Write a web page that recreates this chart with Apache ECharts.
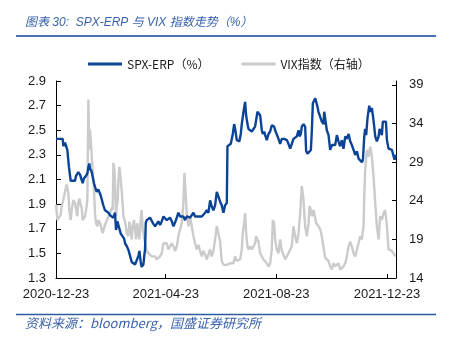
<!DOCTYPE html>
<html>
<head>
<meta charset="utf-8">
<style>
  html, body { margin: 0; padding: 0; background: #ffffff; }
  #chart { width: 449px; height: 341px; }
</style>
<script src="https://cdn.jsdelivr.net/npm/echarts@6/dist/echarts.min.js"></script>
</head>
<body>
<div id="chart"></div>
<script>
// Date axis is expressed as days elapsed since the first observation
const startDate = '2020-12-23';
const xTickLabels = ['2020-12-23', '2021-04-23', '2021-08-23', '2021-12-23'];
const leftTicks = [1.3, 1.5, 1.7, 1.9, 2.1, 2.3, 2.5, 2.7, 2.9];
const rightTicks = [14, 19, 24, 29, 34, 39];

const seriesNames = ['SPX-ERP（%）', 'VIX指数（右轴）'];

// SPX equity risk premium (%), left axis
const erpDays = [
  0, 2.6, 4.4, 7.4, 8.1, 9.9, 11.8, 12.5, 14.3, 16.2,
  18.4, 21.0, 22.1, 24.6, 26.5, 28.3, 29.4, 30.9, 33.1, 34.6,
  35.7, 36.8, 37.5, 38.3, 39.4, 40.5, 41.9, 43.0, 44.9, 46.7,
  48.6, 49.3, 50.4, 52.2, 54.1, 55.9, 57.8, 59.6, 61.4, 63.3,
  65.1, 66.2, 67.7, 68.8, 70.6, 71.4, 73.6, 75.1, 76.2, 78.0,
  79.8, 81.7, 83.5, 85.4, 87.2, 89.0, 90.9, 92.0, 93.4, 94.5,
  96.4, 97.5, 98.2, 99.0, 100.1, 101.9, 103.7, 105.6, 107.4, 109.3,
  111.1, 112.9, 114.8, 116.6, 118.5, 120.3, 122.1, 124.0, 125.8, 127.7,
  129.5, 131.3, 133.2, 135.0, 136.9, 138.7, 140.5, 142.4, 144.2, 146.1,
  147.9, 149.7, 151.6, 153.4, 155.3, 157.1, 158.9, 160.8, 162.6, 164.5,
  166.3, 168.1, 170.0, 171.8, 173.6, 175.5, 177.3, 179.2, 181.0, 182.8,
  184.7, 186.5, 188.4, 189.1, 191.3, 192.8, 195.0, 196.5, 197.6, 199.4,
  201.2, 202.3, 203.8, 204.9, 206.8, 208.6, 209.7, 211.2, 212.3, 214.1,
  216.0, 217.8, 219.6, 220.7, 222.2, 223.3, 225.2, 227.0, 228.1, 229.6,
  230.7, 232.5, 234.4, 236.2, 238.0, 239.1, 240.6, 241.7, 243.5, 245.4,
  247.2, 249.1, 250.2, 251.6, 252.7, 254.6, 256.4, 258.3, 260.1, 261.9,
  263.8, 265.6, 267.5, 268.6, 270.0, 271.1, 273.0, 274.8, 275.9, 277.4,
  279.6, 281.1, 282.2, 283.3, 284.8, 285.9, 287.0, 288.4, 289.5, 291.4,
  293.2, 295.1, 295.8, 296.9, 298.7, 300.6, 302.4, 304.3, 306.1, 307.9,
  309.8, 311.6, 313.4, 315.3, 317.1, 319.0, 320.8, 322.7, 324.5, 326.3,
  328.2, 330.0, 331.9, 333.7, 335.5, 337.4, 338.5, 340.0, 341.0, 342.1,
  343.6, 345.5, 346.6, 348.4, 350.2, 352.1, 353.9, 355.8, 356.9, 358.3,
  359.4, 360.5, 362.0, 363.9, 365.0, 366.8, 368.6, 370.5, 372.3, 373.4, 374.9
];
const erpValues = [
  2.43, 2.43, 2.43, 2.43, 2.37, 2.40, 2.41, 2.34, 2.20, 2.09,
  2.09, 2.09, 2.13, 2.16, 2.14, 2.13, 2.07, 2.11, 2.13, 2.15,
  2.20, 2.23, 2.19, 2.20, 2.16, 2.12, 2.07, 2.04, 2.00, 2.02,
  2.03, 1.97, 1.96, 1.89, 1.85, 1.84, 1.83, 1.81, 1.82, 1.79,
  1.83, 1.69, 1.76, 1.73, 1.72, 1.66, 1.65, 1.62, 1.58, 1.56,
  1.53, 1.48, 1.43, 1.42, 1.41, 1.41, 1.48, 1.52, 1.43, 1.39,
  1.41, 1.49, 1.53, 1.75, 1.77, 1.76, 1.79, 1.79, 1.74, 1.72,
  1.72, 1.76, 1.73, 1.76, 1.80, 1.81, 1.77, 1.76, 1.79, 1.76,
  1.72, 1.75, 1.79, 1.83, 1.80, 1.79, 1.80, 1.77, 1.80, 1.80,
  1.79, 1.79, 1.83, 1.80, 1.79, 1.80, 1.80, 1.80, 1.81, 1.83,
  1.85, 1.83, 1.93, 1.88, 1.85, 1.89, 2.00, 1.96, 1.92, 1.89,
  1.83, 1.89, 1.91, 2.37, 2.37, 2.39, 2.47, 2.55, 2.51, 2.42,
  2.43, 2.41, 2.47, 2.55, 2.65, 2.73, 2.62, 2.55, 2.51, 2.50,
  2.49, 2.51, 2.53, 2.58, 2.65, 2.64, 2.62, 2.50, 2.47, 2.49,
  2.46, 2.42, 2.47, 2.49, 2.54, 2.55, 2.53, 2.50, 2.49, 2.43,
  2.39, 2.43, 2.42, 2.43, 2.42, 2.42, 2.39, 2.35, 2.39, 2.43,
  2.43, 2.45, 2.50, 2.45, 2.47, 2.53, 2.55, 2.53, 2.33, 2.31,
  2.31, 2.34, 2.50, 2.72, 2.73, 2.76, 2.77, 2.69, 2.65, 2.65,
  2.57, 2.55, 2.65, 2.64, 2.50, 2.46, 2.34, 2.38, 2.38, 2.38,
  2.46, 2.41, 2.37, 2.42, 2.35, 2.45, 2.43, 2.47, 2.41, 2.38,
  2.34, 2.30, 2.33, 2.27, 2.28, 2.24, 2.26, 2.45, 2.51, 2.46,
  2.60, 2.70, 2.65, 2.68, 2.58, 2.45, 2.41, 2.45, 2.51, 2.50,
  2.46, 2.57, 2.57, 2.57, 2.42, 2.35, 2.34, 2.34, 2.33, 2.26, 2.30
];

// VIX index, right axis
const vixDays = [
  0, 1.5, 3.7, 5.2, 6.3, 8.1, 9.9, 11.8, 13.6, 14.7,
  16.2, 17.3, 19.1, 21.0, 22.8, 23.5, 24.6, 25.8, 27.2, 28.3,
  29.4, 30.9, 32.0, 33.1, 34.6, 35.7, 36.8, 37.5, 38.6, 39.4,
  40.5, 41.9, 43.0, 44.1, 45.6, 46.7, 48.6, 50.4, 51.5, 53.0,
  54.1, 55.9, 57.8, 59.6, 61.4, 62.5, 63.3, 64.4, 65.1, 66.2,
  67.0, 68.1, 68.8, 69.9, 71.4, 72.5, 73.6, 74.3, 76.2, 78.0,
  79.8, 80.9, 82.4, 83.5, 84.6, 86.1, 87.2, 88.3, 89.8, 90.9,
  92.0, 93.4, 94.5, 95.7, 97.1, 98.2, 100.1, 101.9, 103.7, 105.6,
  107.4, 109.3, 111.1, 112.9, 114.8, 116.6, 118.5, 120.3, 122.1, 124.0,
  125.8, 127.7, 129.5, 131.3, 133.2, 135.0, 136.9, 138.7, 140.5, 141.6,
  142.7, 144.2, 146.1, 147.9, 149.7, 151.6, 153.4, 155.3, 157.1, 158.9,
  160.8, 162.6, 164.5, 166.3, 168.1, 170.0, 171.8, 173.6, 175.5, 177.3,
  179.2, 181.0, 182.8, 184.7, 186.5, 188.4, 190.2, 192.0, 193.9, 195.7,
  197.6, 199.4, 201.2, 203.1, 204.9, 206.0, 207.5, 208.6, 209.7, 211.2,
  212.3, 214.1, 216.0, 217.8, 219.6, 220.7, 222.2, 223.3, 225.2, 227.0,
  228.8, 230.7, 232.5, 234.4, 236.2, 238.0, 239.1, 240.6, 241.7, 243.5,
  245.4, 247.2, 249.1, 250.9, 252.7, 254.6, 256.4, 258.3, 260.1, 261.9,
  263.8, 265.6, 267.5, 269.3, 271.1, 273.0, 274.8, 276.7, 278.5, 279.6,
  281.1, 282.2, 284.0, 285.9, 287.0, 288.4, 289.5, 291.4, 293.2, 295.1,
  296.9, 298.7, 300.6, 302.4, 304.3, 306.1, 307.9, 309.8, 311.6, 313.4,
  315.3, 317.1, 319.0, 320.8, 322.7, 324.5, 326.3, 328.2, 330.0, 331.9,
  333.7, 335.5, 337.4, 339.2, 340.0, 341.0, 342.9, 344.7, 346.6, 348.4,
  350.2, 352.1, 353.9, 355.8, 357.6, 359.4, 361.3, 363.1, 365.0, 366.8,
  368.6, 370.5, 372.3, 374.2
];
const vixValues = [
  23.5, 21.5, 21.5, 22.2, 23.3, 24.1, 25.2, 26.1, 25.0, 22.8,
  21.5, 22.8, 24.1, 23.7, 22.4, 22.0, 23.7, 24.3, 23.5, 23.1,
  21.5, 21.3, 22.0, 22.8, 24.1, 37.1, 30.6, 33.2, 31.5, 29.7,
  28.0, 25.4, 22.4, 21.1, 20.7, 21.5, 21.1, 20.3, 19.8, 20.0,
  20.9, 20.7, 22.0, 22.4, 23.1, 22.8, 28.9, 28.0, 26.3, 22.0,
  23.3, 24.1, 26.7, 28.4, 26.7, 25.2, 23.3, 22.0, 21.3, 19.8,
  19.4, 21.3, 20.3, 19.0, 20.7, 21.5, 20.3, 19.0, 21.1, 19.8,
  19.0, 21.5, 22.8, 20.3, 19.2, 19.0, 17.5, 17.2, 17.2, 16.8,
  17.0, 16.8, 16.4, 16.6, 16.8, 17.2, 18.5, 18.3, 18.5, 17.7,
  18.1, 18.5, 18.1, 17.5, 18.1, 19.4, 20.3, 21.1, 23.7, 27.6,
  25.4, 22.4, 20.7, 22.0, 20.7, 19.4, 18.5, 17.7, 18.3, 17.5,
  16.8, 17.5, 17.0, 16.4, 16.4, 17.7, 16.8, 17.5, 19.0, 20.7,
  19.8, 18.7, 16.2, 15.7, 15.5, 15.7, 15.5, 15.9, 15.7, 15.9,
  16.8, 16.2, 16.2, 16.4, 17.7, 19.8, 21.1, 22.4, 19.8, 18.1,
  17.7, 18.1, 17.7, 17.9, 18.5, 19.4, 19.4, 18.7, 17.2, 16.8,
  16.4, 16.2, 15.9, 15.5, 15.9, 17.7, 21.5, 21.1, 19.0, 17.7,
  17.2, 19.0, 17.5, 17.0, 16.4, 16.8, 16.8, 17.7, 18.1, 20.7,
  19.4, 18.5, 19.8, 22.4, 25.9, 24.1, 20.7, 19.4, 21.1, 23.3,
  22.8, 22.0, 22.8, 22.8, 21.1, 21.1, 20.7, 20.3, 19.4, 17.9,
  16.6, 16.4, 16.2, 15.5, 15.1, 15.9, 15.5, 15.3, 15.9, 15.1,
  15.3, 15.5, 15.9, 16.8, 18.1, 18.7, 18.1, 17.2, 16.8, 17.7,
  18.5, 19.4, 19.0, 20.7, 24.6, 28.0, 30.6, 29.7, 31.0, 29.7,
  27.2, 23.7, 20.7, 19.0, 22.0, 21.5, 22.4, 22.8, 20.7, 17.7,
  17.5, 17.5, 17.2, 16.8
];

const dayMs = 86400000;
const toDay = d => Math.round((Date.parse(d) - Date.parse(startDate)) / dayMs);
const xTickDays = xTickLabels.map(toDay);

const pair = (xs, ys) => xs.map((x, i) => [x, ys[i]]);

const axisFont = 'Liberation Sans, Arial, Noto Sans CJK SC, sans-serif';
const cjkFont = 'Noto Sans CJK SC, Liberation Sans, sans-serif';
const titleFont = 'Liberation Sans, Noto Sans CJK SC, sans-serif';
const blue = '#0b4397';
const grey = '#cbcbcb';
const headerBlue = '#3a62ab';

const chart = echarts.init(document.getElementById('chart'), null, { renderer: 'canvas' });

chart.setOption({
  animation: false,
  backgroundColor: '#ffffff',
  grid: { left: 56, right: 53, top: 81, bottom: 63, containLabel: false },
  legend: {
    data: seriesNames,
    left: 83,
    top: 53,
    icon: 'rect',
    itemWidth: 34,
    itemHeight: 3,
    itemGap: 32,
    textStyle: { fontFamily: cjkFont, fontSize: 12, color: '#1a1a1a' }
  },
  xAxis: {
    type: 'value',
    min: 0,
    max: 375,
    splitLine: { show: false },
    axisLine: { show: true, onZero: false, lineStyle: { color: '#000', width: 1 } },
    axisTick: { show: true, inside: true, length: 4, customValues: xTickDays, lineStyle: { color: '#000' } },
    axisLabel: {
      customValues: xTickDays,
      margin: 10,
      fontFamily: axisFont,
      fontSize: 13,
      color: '#1a1a1a',
      formatter: v => xTickLabels[xTickDays.indexOf(v)] || ''
    }
  },
  yAxis: [
    {
      type: 'value',
      min: 1.3,
      max: 2.9,
      splitLine: { show: false },
      axisLine: { show: true, lineStyle: { color: '#000', width: 1 } },
      axisTick: { show: true, inside: true, length: 5, customValues: leftTicks, lineStyle: { color: '#000' } },
      axisLabel: {
        customValues: leftTicks,
        margin: 10,
        fontFamily: axisFont,
        fontSize: 13,
        color: '#1a1a1a',
        formatter: v => v.toFixed(1)
      }
    },
    {
      type: 'value',
      position: 'right',
      min: 14,
      max: 39.5,
      splitLine: { show: false },
      axisLine: { show: true, lineStyle: { color: '#000', width: 1 } },
      axisTick: { show: true, inside: true, length: 4, customValues: rightTicks, lineStyle: { color: '#000' } },
      axisLabel: {
        customValues: rightTicks,
        margin: 13,
        fontFamily: axisFont,
        fontSize: 13,
        color: '#1a1a1a'
      }
    }
  ],
  series: [
    {
      name: seriesNames[0],
      type: 'line',
      yAxisIndex: 0,
      data: pair(erpDays, erpValues),
      showSymbol: false,
      symbol: 'none',
      z: 3,
      lineStyle: { color: blue, width: 2.4 },
      itemStyle: { color: blue }
    },
    {
      name: seriesNames[1],
      type: 'line',
      yAxisIndex: 1,
      data: pair(vixDays, vixValues),
      showSymbol: false,
      symbol: 'none',
      z: 2,
      lineStyle: { color: grey, width: 2.4 },
      itemStyle: { color: grey }
    }
  ],
  graphic: [
    {
      type: 'text',
      left: 25,
      top: 17,
      style: {
        text: '图表 30:  SPX-ERP 与 VIX 指数走势（%）',
        fontFamily: titleFont,
        fontStyle: 'italic',
        fontSize: 12,
        fill: headerBlue
      }
    },
    {
      type: 'line',
      shape: { x1: 16, y1: 36, x2: 436, y2: 36 },
      style: { stroke: '#4a72b2', lineWidth: 2 }
    },
    {
      type: 'line',
      shape: { x1: 16, y1: 314.5, x2: 436, y2: 314.5 },
      style: { stroke: '#2f5aa3', lineWidth: 1.5 }
    },
    {
      type: 'text',
      left: 25,
      top: 317,
      style: {
        text: '资料来源：bloomberg，国盛证券研究所',
        fontFamily: cjkFont,
        fontStyle: 'italic',
        fontSize: 13,
        fill: headerBlue
      }
    }
  ]
});
</script>
</body>
</html>
